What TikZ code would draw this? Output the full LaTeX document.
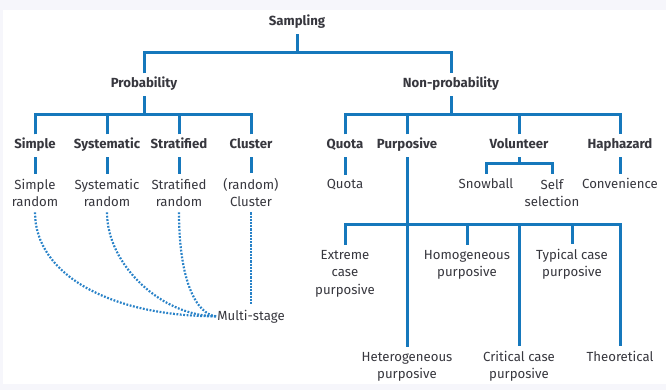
\documentclass[tikz,border=0pt]{standalone}
\usepackage{fontspec}
\setmainfont{Fira Sans}
\definecolor{treeblue}{RGB}{22,120,188}
\definecolor{dotblue}{RGB}{40,130,200}
\definecolor{txt}{RGB}{55,55,62}
\definecolor{rim}{RGB}{246,246,251}
\tikzstyle{head}=[anchor=base, text=txt, inner xsep=2pt, inner ysep=5pt,
  text height=9.5pt, text depth=3pt, font=\fontsize{13.2}{17.5}\selectfont\bfseries]
\tikzstyle{leaf}=[anchor=base, text=txt, inner xsep=2pt, inner ysep=5pt, align=center,
  font=\fontsize{13.2}{17.5}\selectfont]
\tikzstyle{link}=[treeblue, line width=3pt]
\tikzstyle{multi}=[dotblue, line width=2.2pt, dash pattern=on 1.8pt off 1.6pt]

\begin{document}
\begin{tikzpicture}[x=1pt, y=-1pt]
  \useasboundingbox (0,0) rectangle (666,390);
  \fill[rim] (0,0) rectangle (666,390);
  \fill[white] (3,10) rectangle (666,384);

  \node[head] (samp) at (297,26) {Sampling};
  \node[head] (prob) at (144,88) {Probability};
  \node[head] (nonprob) at (451,88) {Non-probability};
  \coordinate (sbus) at (297,53);
  \draw[link] (samp) -- (samp |- sbus);
  \draw[link] (prob) |- (sbus) -| (nonprob);

  % probability side
  \coordinate (pbus) at (144,115);
  \foreach \n/\x/\t/\s in {simp/35/Simple/Simple\\random,
      syst/107/Systematic/Systematic\\random,
      strat/179/Stratified/Stratified\\random,
      clus/251/Cluster/(random)\\Cluster} {%
    \node[head] (\n) at (\x,149) {\t};
    \node[leaf] (\n2) at (\x,207) {\s};
    \draw[link] (\n) -- (\n2);
    \draw[link] (\n) -- (\n |- pbus);
  }
  \draw[link] (prob) -- (prob |- pbus);
  \draw[link] (simp) |- (pbus) -| (clus);

  \node[leaf, inner xsep=1pt] (ms) at (251,320) {Multi-stage};
  \draw[multi] (simp2.south) .. controls +(0,63) and +(-104,0) .. (ms.west);
  \draw[multi] (syst2.south) .. controls +(0,53) and +(-54,0) .. (ms.west);
  \draw[multi] (strat2.south) .. controls +(0,68) and +(-20,-2) .. (ms.west);
  \draw[multi, line width=2.6pt, dash pattern=on 2.2pt off 1pt] (clus2) -- (ms);

  % non-probability side
  \coordinate (nbus) at (451,115);
  \node[head] (quota) at (345,149) {Quota};
  \node[head] (purp) at (407,149) {Purposive};
  \node[head] (vol) at (519,149) {Volunteer};
  \node[head] (hap) at (620,149) {Haphazard};
  \draw[link] (nonprob) -- (nonprob |- nbus);
  \draw[link] (quota) |- (nbus) -| (hap);
  \draw[link] (purp) -- (purp |- nbus);
  \draw[link] (vol) -- (vol |- nbus);

  \node[leaf] (quota2) at (345,189) {Quota};
  \node[leaf] (snow) at (486,189) {Snowball};
  \node[leaf] (self) at (552,207) {Self\\selection};
  \node[leaf] (conv) at (620,189) {Convenience};
  \coordinate (vbus) at (519,164);
  \draw[link] (quota) -- (quota2);
  \draw[link] (hap) -- (conv);
  \draw[link] (vol) -- (vol |- vbus);
  \draw[link] (snow) |- (vbus) -| (self);

  % purposive kinds
  \coordinate (ubus) at (407,224);
  \node[leaf] (ext) at (345,294) {Extreme\\case\\purposive};
  \node[leaf] (homo) at (467,276.5) {Homogeneous\\purposive};
  \node[leaf] (typ) at (572,276.5) {Typical case\\purposive};
  \node[leaf] (het) at (407,378.5) {Heterogeneous\\purposive};
  \node[leaf] (crit) at (519,378.5) {Critical case\\purposive};
  \node[leaf] (theo) at (620,361) {Theoretical};
  \draw[link] (purp) -- (het);
  \draw[link] (ext) |- (ubus) -| (theo);
  \draw[link] (homo) -- (homo |- ubus);
  \draw[link] (typ) -- (typ |- ubus);
  \draw[link] (crit) -- (crit |- ubus);
\end{tikzpicture}
\end{document}
